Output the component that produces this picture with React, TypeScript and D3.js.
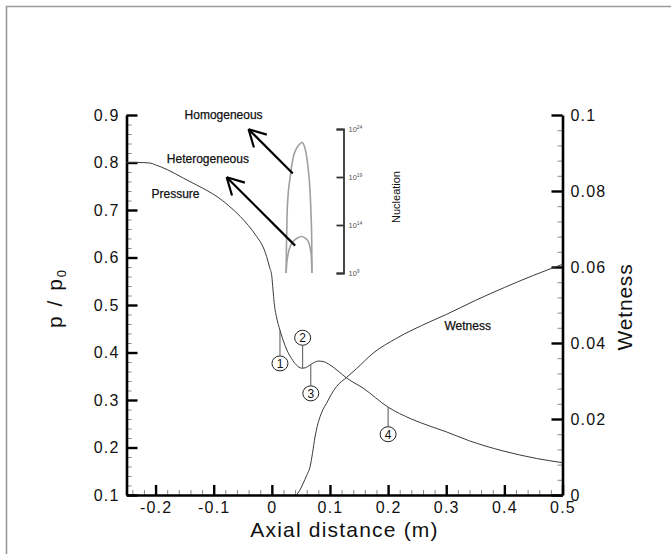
import React, { useEffect, useRef } from 'react';
import * as d3 from 'd3';

// pressure ratio along the nozzle
const pressureX = [-0.25, -0.23, -0.21, -0.2, -0.18, -0.152, -0.13, -0.11, -0.094, -0.075, -0.054, -0.04, -0.026, -0.015, -0.009, -0.004, 0, 0.002, 0.004, 0.008, 0.014, 0.02, 0.026, 0.034, 0.042, 0.0515, 0.058, 0.066, 0.073, 0.08, 0.088, 0.1, 0.114, 0.129, 0.157, 0.2, 0.24, 0.272, 0.3, 0.34, 0.397, 0.455, 0.5];
const pressureY = [0.8, 0.8, 0.799, 0.795, 0.785, 0.767, 0.753, 0.74, 0.728, 0.71, 0.686, 0.667, 0.644, 0.622, 0.602, 0.58, 0.56, 0.532, 0.505, 0.475, 0.447, 0.424, 0.405, 0.387, 0.374, 0.367, 0.368, 0.374, 0.379, 0.382, 0.381, 0.374, 0.361, 0.346, 0.325, 0.285, 0.26, 0.245, 0.233, 0.214, 0.193, 0.177, 0.168];

// wetness fraction
const wetnessX = [0.042, 0.048, 0.054, 0.06, 0.0657, 0.07, 0.0743, 0.078, 0.083, 0.088, 0.094, 0.102, 0.111, 0.129, 0.146, 0.174, 0.214, 0.272, 0.3, 0.35, 0.4, 0.45, 0.5];
const wetnessY = [0, 0.0012, 0.0031, 0.0052, 0.0074, 0.011, 0.0153, 0.018, 0.0206, 0.0225, 0.0241, 0.0264, 0.0285, 0.031, 0.0333, 0.0373, 0.0412, 0.0456, 0.0475, 0.0512, 0.0546, 0.0578, 0.0607];

// nucleation rates (log10 exponent)
const homoX = [0.0245, 0.0252, 0.0262, 0.0285, 0.0314, 0.034, 0.037, 0.041, 0.046, 0.0515, 0.056, 0.06, 0.063, 0.0657, 0.0675, 0.0686, 0.069];
const homoExp = [9, 12, 15, 17.5, 18.9, 20.1, 21.1, 21.8, 22.3, 22.6, 22.2, 21.1, 19.6, 17.6, 15, 12.4, 9];
const heteroX = [0.0245, 0.026, 0.028, 0.032, 0.037, 0.044, 0.0515, 0.057, 0.0626, 0.066, 0.068, 0.069];
const heteroExp = [9, 10.2, 11, 11.8, 12.3, 12.65, 12.8, 12.65, 12.3, 11.6, 10.7, 9];

const xTicks = [-0.2, -0.1, 0, 0.1, 0.2, 0.3, 0.4, 0.5];
const pTicks = [0.1, 0.2, 0.3, 0.4, 0.5, 0.6, 0.7, 0.8, 0.9];
const wTicks = [0, 0.02, 0.04, 0.06, 0.08, 0.1];
const nucTicks = [9, 14, 19, 24];

// numbered points on the pressure curve: x, curve value, circle position
const markerLabels = ['1', '2', '3', '4'];
const markerX = [0.014, 0.053, 0.067, 0.2];
const markerCurve = [0.447, 0.367, 0.374, 0.285];
const markerAt = [0.377, 0.431, 0.314, 0.228];

// arrows pointing from the nucleation peaks to their names
const arrowFromX = [0.036, 0.04];
const arrowFromP = [0.777, 0.625];
const arrowToX = [-0.04, -0.0777];
const arrowToP = [0.87, 0.769];

const W = 671;
const H = 554;
const FONT = 'Liberation Sans, Arial, sans-serif';

const App = () => {
  const svgRef = useRef<SVGSVGElement>(null);

  useEffect(() => {
    const svg = d3.select(svgRef.current);
    svg.selectAll('*').remove();

    const left = 126.5, right = 562.5, top = 115, bottom = 495;

    const x = d3.scaleLinear().domain([-0.25, 0.5]).range([left, right]);
    const yP = d3.scaleLinear().domain([0.1, 0.9]).range([bottom, top]);
    const yW = d3.scaleLinear().domain([0, 0.1]).range([bottom, top]);
    const yN = d3.scaleLog().domain([1e9, 1e24]).range([273, 129]);
    const nucAxisX = 343.5;

    // frame
    svg.append('path')
      .attr('d', `M6.5,${H}V6.5H${W}`)
      .attr('fill', 'none')
      .attr('stroke', '#9a9a9a')
      .attr('stroke-width', 1.6);

    // minor ticks
    const minorX = x.ticks(40).filter(v => !xTicks.some(t => Math.abs(t - v) < 1e-6));
    const minorP = yP.ticks(40).filter(v => !pTicks.some(t => Math.abs(t - v) < 1e-6));
    const minorW = d3.range(0, 0.1001, 0.004).filter(v => !wTicks.some(t => Math.abs(t - v) < 1e-6));

    const styleMinor = g => {
      g.select('.domain').remove();
      g.selectAll('.tick line').attr('stroke', '#8a8a8a').attr('stroke-width', 1);
    };
    svg.append('g').attr('transform', `translate(0,${bottom})`)
      .call(d3.axisBottom(x).tickValues(minorX).tickSize(-5).tickFormat(() => ''))
      .call(styleMinor);
    svg.append('g').attr('transform', `translate(${left},0)`)
      .call(d3.axisLeft(yP).tickValues(minorP).tickSize(-5).tickFormat(() => ''))
      .call(styleMinor);
    svg.append('g').attr('transform', `translate(${right},0)`)
      .call(d3.axisRight(yW).tickValues(minorW).tickSize(-5).tickFormat(() => ''))
      .call(styleMinor);

    // major axes
    const styleMajor = g => {
      g.select('.domain').attr('stroke', '#000').attr('stroke-width', 2.6);
      g.selectAll('.tick line').attr('stroke', '#000').attr('stroke-width', 2.4);
      g.selectAll('.tick text')
        .attr('font-family', FONT)
        .attr('font-size', 16)
        .attr('letter-spacing', 1.2)
        .attr('fill', '#111');
    };
    svg.append('g').attr('transform', `translate(0,${bottom})`)
      .call(d3.axisBottom(x).tickValues(xTicks).tickSize(-10).tickSizeOuter(0).tickPadding(7).tickFormat(d => String(d)))
      .call(styleMajor);
    svg.append('g').attr('transform', `translate(${left},0)`)
      .call(d3.axisLeft(yP).tickValues(pTicks).tickSize(-11).tickSizeOuter(0).tickPadding(7).tickFormat(d => String(d)))
      .call(styleMajor);
    svg.append('g').attr('transform', `translate(${right},0)`)
      .call(d3.axisRight(yW).tickValues(wTicks).tickSize(-11).tickSizeOuter(0).tickPadding(8).tickFormat(d => String(d)))
      .call(styleMajor);

    // axis titles
    svg.append('text')
      .attr('x', (left + right) / 2)
      .attr('y', 537)
      .attr('text-anchor', 'middle')
      .attr('font-family', FONT)
      .attr('font-size', 21)
      .attr('letter-spacing', 1.2)
      .attr('fill', '#111')
      .text('Axial distance (m)');

    const pTitle = svg.append('text')
      .attr('transform', `translate(62,${(top + bottom) / 2 - 7}) rotate(-90)`)
      .attr('text-anchor', 'middle')
      .attr('font-family', FONT)
      .attr('font-size', 21)
      .attr('letter-spacing', 2)
      .attr('fill', '#111');
    pTitle.append('tspan').text('p / p');
    pTitle.append('tspan').attr('font-size', 13).attr('dy', 4).text('0');

    svg.append('text')
      .attr('transform', `translate(632,${(top + bottom) / 2 + 2}) rotate(-90)`)
      .attr('text-anchor', 'middle')
      .attr('font-family', FONT)
      .attr('font-size', 21)
      .attr('letter-spacing', 0.8)
      .attr('fill', '#111')
      .text('Wetness');

    // curves
    const pData = pressureX.map((v, i) => [v, pressureY[i]]);
    const wData = wetnessX.map((v, i) => [v, wetnessY[i]]);
    svg.append('path')
      .datum(pData)
      .attr('fill', 'none')
      .attr('stroke', '#3a3a3a')
      .attr('stroke-width', 1)
      .attr('d', d3.line().x(d => x(d[0])).y(d => yP(d[1])).curve(d3.curveMonotoneX));
    svg.append('path')
      .datum(wData)
      .attr('fill', 'none')
      .attr('stroke', '#3a3a3a')
      .attr('stroke-width', 1)
      .attr('d', d3.line().x(d => x(d[0])).y(d => yW(d[1])).curve(d3.curveMonotoneX));

    // nucleation inset
    const nucLine = d3.line().x(d => x(d[0])).y(d => yN(Math.pow(10, d[1]))).curve(d3.curveMonotoneX);
    [homoX.map((v, i) => [v, homoExp[i]]), heteroX.map((v, i) => [v, heteroExp[i]])].forEach(data => {
      svg.append('path')
        .datum(data)
        .attr('fill', 'none')
        .attr('stroke', '#a0a0a0')
        .attr('stroke-width', 1.6)
        .attr('d', nucLine);
    });

    const nucAxis = svg.append('g').attr('transform', `translate(${nucAxisX},0)`)
      .call(d3.axisLeft(yN).tickValues(nucTicks.map(e => Math.pow(10, e))).tickSize(7).tickSizeOuter(7).tickFormat(() => ''));
    nucAxis.select('.domain').attr('stroke', '#333').attr('stroke-width', 1.8);
    nucAxis.selectAll('.tick line').attr('stroke', '#333').attr('stroke-width', 1.8);

    nucTicks.forEach(e => {
      const t = svg.append('text')
        .attr('x', nucAxisX + 5)
        .attr('y', yN(Math.pow(10, e)) + 2.5)
        .attr('font-family', FONT)
        .attr('font-size', 7.5)
        .attr('fill', '#555');
      t.append('tspan').text('10');
      t.append('tspan').attr('font-size', 5).attr('dy', -3).text(String(e));
    });

    svg.append('text')
      .attr('transform', `translate(399.5,197) rotate(-90)`)
      .attr('text-anchor', 'middle')
      .attr('font-family', FONT)
      .attr('font-size', 11)
      .attr('fill', '#111')
      .text('Nucleation');

    // arrows
    arrowFromX.forEach((fx, i) => {
      const x1 = x(fx), y1 = yP(arrowFromP[i]);
      const x2 = x(arrowToX[i]), y2 = yP(arrowToP[i]);
      const ang = Math.atan2(y1 - y2, x1 - x2);
      const len = 19;
      const g = svg.append('g').attr('stroke', '#000').attr('stroke-width', 2.2).attr('fill', 'none');
      g.append('line').attr('x1', x1).attr('y1', y1).attr('x2', x2).attr('y2', y2);
      [-0.5, 0.5].forEach(da => {
        g.append('line')
          .attr('x1', x2).attr('y1', y2)
          .attr('x2', x2 + len * Math.cos(ang + da))
          .attr('y2', y2 + len * Math.sin(ang + da));
      });
    });

    // text labels
    const addLabel = (txt, px, py, anchor) => {
      svg.append('text')
        .attr('x', px)
        .attr('y', py)
        .attr('text-anchor', anchor)
        .attr('font-family', FONT)
        .attr('font-size', 12)
        .attr('fill', '#111')
        .attr('stroke', '#111')
        .attr('stroke-width', 0.25)
        .text(txt);
    };
    addLabel('Homogeneous', x(-0.083), yP(0.892), 'middle');
    addLabel('Heterogeneous', x(-0.11), yP(0.799), 'middle');
    addLabel('Pressure', x(-0.207), yP(0.725), 'start');
    addLabel('Wetness', x(0.297), yW(0.0434), 'start');

    // numbered markers
    const ry = 7.5;
    markerLabels.forEach((lab, i) => {
      const cx = x(markerX[i]);
      const cy = yP(markerAt[i]);
      const curveY = yP(markerCurve[i]);
      const edge = cy > curveY ? cy - ry : cy + ry;
      svg.append('line')
        .attr('x1', cx).attr('y1', curveY)
        .attr('x2', cx).attr('y2', edge)
        .attr('stroke', '#555')
        .attr('stroke-width', 1);
      svg.append('ellipse')
        .attr('cx', cx).attr('cy', cy)
        .attr('rx', 8).attr('ry', ry)
        .attr('fill', '#fff')
        .attr('stroke', '#222')
        .attr('stroke-width', 1);
      svg.append('text')
        .attr('x', cx).attr('y', cy)
        .attr('dy', '0.36em')
        .attr('text-anchor', 'middle')
        .attr('font-family', FONT)
        .attr('font-size', 12)
        .attr('fill', '#111')
        .text(lab);
    });
  }, []);

  return (
    <svg
      ref={svgRef}
      width={W}
      height={H}
      style={{ position: 'absolute', left: 0, top: 0, background: '#fff' }}
    />
  );
};

export default App;
